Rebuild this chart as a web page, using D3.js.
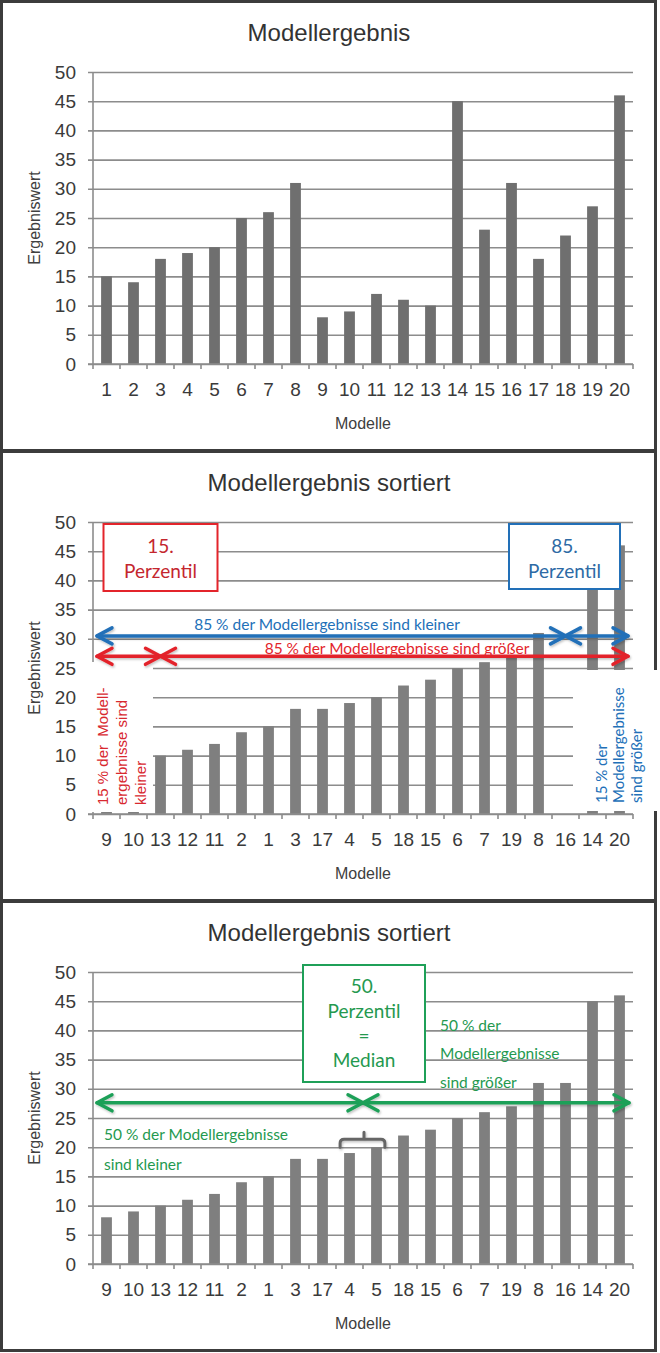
<!DOCTYPE html>
<html>
<head>
<meta charset="utf-8">
<script src="https://cdn.jsdelivr.net/npm/d3@7"></script>
<style>
  body { margin: 0; background: #fff; }
  svg { display: block; }
</style>
</head>
<body>
<div id="chart"></div>
<script>
// Modellergebnis: raw and sorted bar charts with percentile annotations

var models = ['1', '2', '3', '4', '5', '6', '7', '8', '9', '10', '11', '12', '13', '14', '15', '16', '17', '18', '19', '20'];
var values = [15, 14, 18, 19, 20, 25, 26, 31, 8, 9, 12, 11, 10, 45, 23, 31, 18, 22, 27, 46];
var sortedModels = ['9', '10', '13', '12', '11', '2', '1', '3', '17', '4', '5', '18', '15', '6', '7', '19', '8', '16', '14', '20'];
var sortedValues = [8, 9, 10, 11, 12, 14, 15, 18, 18, 19, 20, 22, 23, 25, 26, 27, 31, 31, 45, 46];
var yTicks = [0, 5, 10, 15, 20, 25, 30, 35, 40, 45, 50];
var hiddenInPanel2 = ['16'];

var AXIS_FONT = '"Liberation Sans", Arial, sans-serif';
var NOTE_FONT = 'Lato, "Open Sans", sans-serif';
var RED = '#e3242b', RED_TXT = '#c4262e';
var BLUE = '#2270b8', BLUE_TXT = '#2d6aa5';
var GREEN = '#1fa058', GREEN_TXT = '#24994f';
var NOTE_SIZE = 15.5;

var svg = d3.select('#chart').append('svg')
    .attr('width', 660)
    .attr('height', 1353);

svg.append('rect').attr('width', 660).attr('height', 1353).attr('fill', '#fff');

var defs = svg.append('defs');
var shadow = defs.append('filter').attr('id', 'shadow')
    .attr('x', '-20%').attr('y', '-50%').attr('width', '140%').attr('height', '200%');
shadow.append('feDropShadow')
    .attr('dx', 1).attr('dy', 1.5).attr('stdDeviation', 1.3)
    .attr('flood-color', '#000').attr('flood-opacity', 0.25);

function drawPanel(offsetY, title, cats, vals, barColor, hidden) {
    var g = svg.append('g').attr('transform', 'translate(0,' + offsetY + ')');

    var x = d3.scaleBand().domain(cats).range([93, 633]).paddingInner(0.6).paddingOuter(0.3);
    var y = d3.scaleLinear().domain([0, 50]).range([364, 72]);

    // gridlines
    g.append('g')
        .attr('transform', 'translate(88,0)')
        .call(d3.axisLeft(y).tickValues(yTicks).tickSize(-545).tickFormat(''))
        .call(function (s) { s.select('.domain').remove(); })
        .selectAll('line')
        .attr('stroke', '#8c8c8c')
        .attr('stroke-width', 1.6);

    // y labels
    var ya = g.append('g')
        .attr('transform', 'translate(93,0)')
        .call(d3.axisLeft(y).tickValues(yTicks).tickSize(0).tickPadding(17));
    ya.select('.domain').remove();
    ya.selectAll('text')
        .attr('fill', '#3a3a3a')
        .attr('font-size', '19px')
        .attr('font-family', AXIS_FONT);

    // y axis line
    g.append('line')
        .attr('x1', 93).attr('x2', 93)
        .attr('y1', y(0)).attr('y2', y(50))
        .attr('stroke', '#8c8c8c').attr('stroke-width', 1.6);

    // bars
    var data = cats.map(function (c, i) { return { cat: c, val: vals[i] }; })
        .filter(function (d) { return !hidden || hidden.indexOf(d.cat) < 0; });
    g.selectAll('rect.bar')
        .data(data)
        .join('rect')
        .attr('class', 'bar')
        .attr('x', function (d) { return x(d.cat); })
        .attr('y', function (d) { return y(d.val); })
        .attr('width', x.bandwidth())
        .attr('height', function (d) { return y(0) - y(d.val); })
        .attr('fill', barColor);

    // x axis line and boundary ticks
    g.append('line')
        .attr('x1', 88).attr('x2', 633)
        .attr('y1', y(0)).attr('y2', y(0))
        .attr('stroke', '#8c8c8c').attr('stroke-width', 1.6);
    g.selectAll('line.xtick')
        .data(d3.range(cats.length + 1))
        .join('line')
        .attr('class', 'xtick')
        .attr('x1', function (k) { return x.range()[0] + k * x.step(); })
        .attr('x2', function (k) { return x.range()[0] + k * x.step(); })
        .attr('y1', y(0)).attr('y2', y(0) + 5)
        .attr('stroke', '#8c8c8c').attr('stroke-width', 1.6);

    var xa = g.append('g')
        .attr('transform', 'translate(0,' + y(0) + ')')
        .call(d3.axisBottom(x).tickSize(0).tickPadding(19));
    xa.select('.domain').remove();
    xa.selectAll('text')
        .attr('fill', '#3a3a3a')
        .attr('font-size', '19px')
        .attr('font-family', AXIS_FONT);

    // titles
    g.append('text')
        .attr('x', 329).attr('y', 41)
        .attr('text-anchor', 'middle')
        .attr('fill', '#333')
        .attr('font-size', '24px')
        .attr('font-family', AXIS_FONT)
        .text(title);
    g.append('text')
        .attr('x', 363).attr('y', 429)
        .attr('text-anchor', 'middle')
        .attr('fill', '#404040')
        .attr('font-size', '16px')
        .attr('font-family', AXIS_FONT)
        .text('Modelle');
    g.append('text')
        .attr('transform', 'translate(40,218) rotate(-90)')
        .attr('text-anchor', 'middle')
        .attr('fill', '#404040')
        .attr('font-size', '16px')
        .attr('font-family', AXIS_FONT)
        .text('Ergebniswert');

    return { g: g, x: x, y: y };
}

function frame(g) {
    g.append('rect')
        .attr('x', 1.5).attr('y', 1.5)
        .attr('width', 654).attr('height', 449)
        .attr('fill', 'none')
        .attr('stroke', '#3c3c3c')
        .attr('stroke-width', 3);
}

// shaft + open chevron heads at both ends
function arrow(g, x1, x2, yy, color) {
    var a = g.append('g').attr('filter', 'url(#shadow)')
        .attr('stroke', color).attr('stroke-width', 3.5)
        .attr('fill', 'none').attr('stroke-linecap', 'round').attr('stroke-linejoin', 'round');
    a.append('line').attr('x1', x1).attr('x2', x2).attr('y1', yy).attr('y2', yy);
    a.append('path').attr('d', 'M' + (x1 + 15) + ',' + (yy - 8) + 'L' + x1 + ',' + yy + 'L' + (x1 + 15) + ',' + (yy + 8));
    a.append('path').attr('d', 'M' + (x2 - 15) + ',' + (yy - 8) + 'L' + x2 + ',' + yy + 'L' + (x2 - 15) + ',' + (yy + 8));
}

function vline(g, xx, y1, y2, color, w) {
    g.append('line')
        .attr('x1', xx).attr('x2', xx).attr('y1', y1).attr('y2', y2)
        .attr('stroke', color).attr('stroke-width', w)
        .attr('filter', 'url(#shadow)');
}

function box(g, cx, top, w, h, color, txtColor, lines, baselines) {
    g.append('rect')
        .attr('x', cx - w / 2).attr('y', top)
        .attr('width', w).attr('height', h)
        .attr('fill', '#fff')
        .attr('stroke', color).attr('stroke-width', 2);
    lines.forEach(function (t, i) {
        g.append('text')
            .attr('x', cx).attr('y', baselines[i])
            .attr('text-anchor', 'middle')
            .attr('fill', txtColor)
            .attr('font-size', '19px')
            .attr('font-family', NOTE_FONT)
            .text(t);
    });
}

function note(g, xx, yy, txt, color, anchor) {
    return g.append('text')
        .attr('x', xx).attr('y', yy)
        .attr('text-anchor', anchor || 'start')
        .attr('fill', color)
        .attr('font-size', NOTE_SIZE + 'px')
        .attr('font-family', NOTE_FONT)
        .text(txt);
}

function rotatedLines(g, baseXs, startY, lines, color, size, family) {
    lines.forEach(function (t, i) {
        g.append('text')
            .attr('transform', 'translate(' + baseXs[i] + ',' + startY + ') rotate(-90)')
            .attr('fill', color)
            .attr('font-size', size + 'px')
            .attr('font-family', family)
            .style('white-space', 'pre')
            .text(t);
    });
}

// ---- Panel 1
var p1 = drawPanel(0, 'Modellergebnis', models, values, '#6f6f6f');
frame(p1.g);

// ---- Panel 2: 15th and 85th percentile
var p2 = drawPanel(450, 'Modellergebnis sortiert', sortedModels, sortedValues, '#7f7f7f', hiddenInPanel2);
var g2 = p2.g, x2 = p2.x, y2 = p2.y, bw2 = x2.bandwidth();
frame(g2);

g2.append('rect').attr('x', 86).attr('y', 212).attr('width', 67).attr('height', 150).attr('fill', '#fff');
g2.append('rect').attr('x', 573).attr('y', 220).attr('width', 87).attr('height', 141).attr('fill', '#fff');

var redX = x2('13') + bw2 / 2;
var blueX = x2('16') + bw2 / 2;

arrow(g2, 97, blueX, y2(30.5), BLUE);
arrow(g2, blueX, 628, y2(30.5), BLUE);
vline(g2, redX, 141, 362, RED, 4.5);
arrow(g2, 97, redX, y2(27), RED);
arrow(g2, redX, 628, y2(27), RED);
vline(g2, blueX, 139, 362, BLUE, 5);

box(g2, redX, 74, 114, 67, RED, RED_TXT, ['15.', 'Perzentil'], [103, 128]);
box(g2, blueX - 1, 74, 111, 65, BLUE, BLUE_TXT, ['85.', 'Perzentil'], [103, 128]);

note(g2, 327, 180, '85 % der Modellergebnisse sind kleiner', BLUE, 'middle');
note(g2, 397, 204, '85 % der Modellergebnisse sind größer', RED, 'middle');

rotatedLines(g2, [108, 127, 146], 355, ['15 % der  Modell-', 'ergebnisse sind', 'kleiner'], '#d8282f', 15, AXIS_FONT);
rotatedLines(g2, [607, 624, 642], 353, ['15 % der', 'Modellergebnisse', 'sind größer'], BLUE, 15, NOTE_FONT);

// ---- Panel 3: median
var p3 = drawPanel(900, 'Modellergebnis sortiert', sortedModels, sortedValues, '#7f7f7f');
var g3 = p3.g, x3 = p3.x, y3 = p3.y, bw3 = x3.bandwidth();
frame(g3);

var medX = (x3('4') + bw3 + x3('5')) / 2;

vline(g3, medX, 182, 368, GREEN, 4);
arrow(g3, 97, medX, y3(27.6), GREEN);
arrow(g3, medX, 629, y3(27.6), GREEN);
box(g3, medX + 1, 65, 122, 117, GREEN, GREEN_TXT, ['50.', 'Perzentil', '=', 'Median'], [93, 118, 143, 167]);

note(g3, 104, 240, '50 % der Modellergebnisse', GREEN_TXT);
note(g3, 104, 270, 'sind kleiner', GREEN_TXT);
note(g3, 440, 131, '50 % der', GREEN_TXT);
note(g3, 440, 159, 'Modellergebnisse', GREEN_TXT);
note(g3, 440, 188, 'sind größer', GREEN_TXT);

// bracket over the two middle bars
var bx0 = x3('4') - 4, bx1 = x3('5') + bw3 + 3, byTop = y3(20) - 8, byBot = y3(20);
g3.append('path')
    .attr('d', 'M' + bx0 + ',' + byBot + 'V' + (byTop + 4) + 'Q' + bx0 + ',' + byTop + ' ' + (bx0 + 4) + ',' + byTop +
        'H' + (bx1 - 4) + 'Q' + bx1 + ',' + byTop + ' ' + bx1 + ',' + (byTop + 4) + 'V' + byBot +
        'M' + (medX + 1) + ',' + byTop + 'V' + (byTop - 7))
    .attr('fill', 'none')
    .attr('stroke', '#666')
    .attr('stroke-width', 3)
    .attr('stroke-linecap', 'round')
    .attr('filter', 'url(#shadow)');
</script>
</body>
</html>
